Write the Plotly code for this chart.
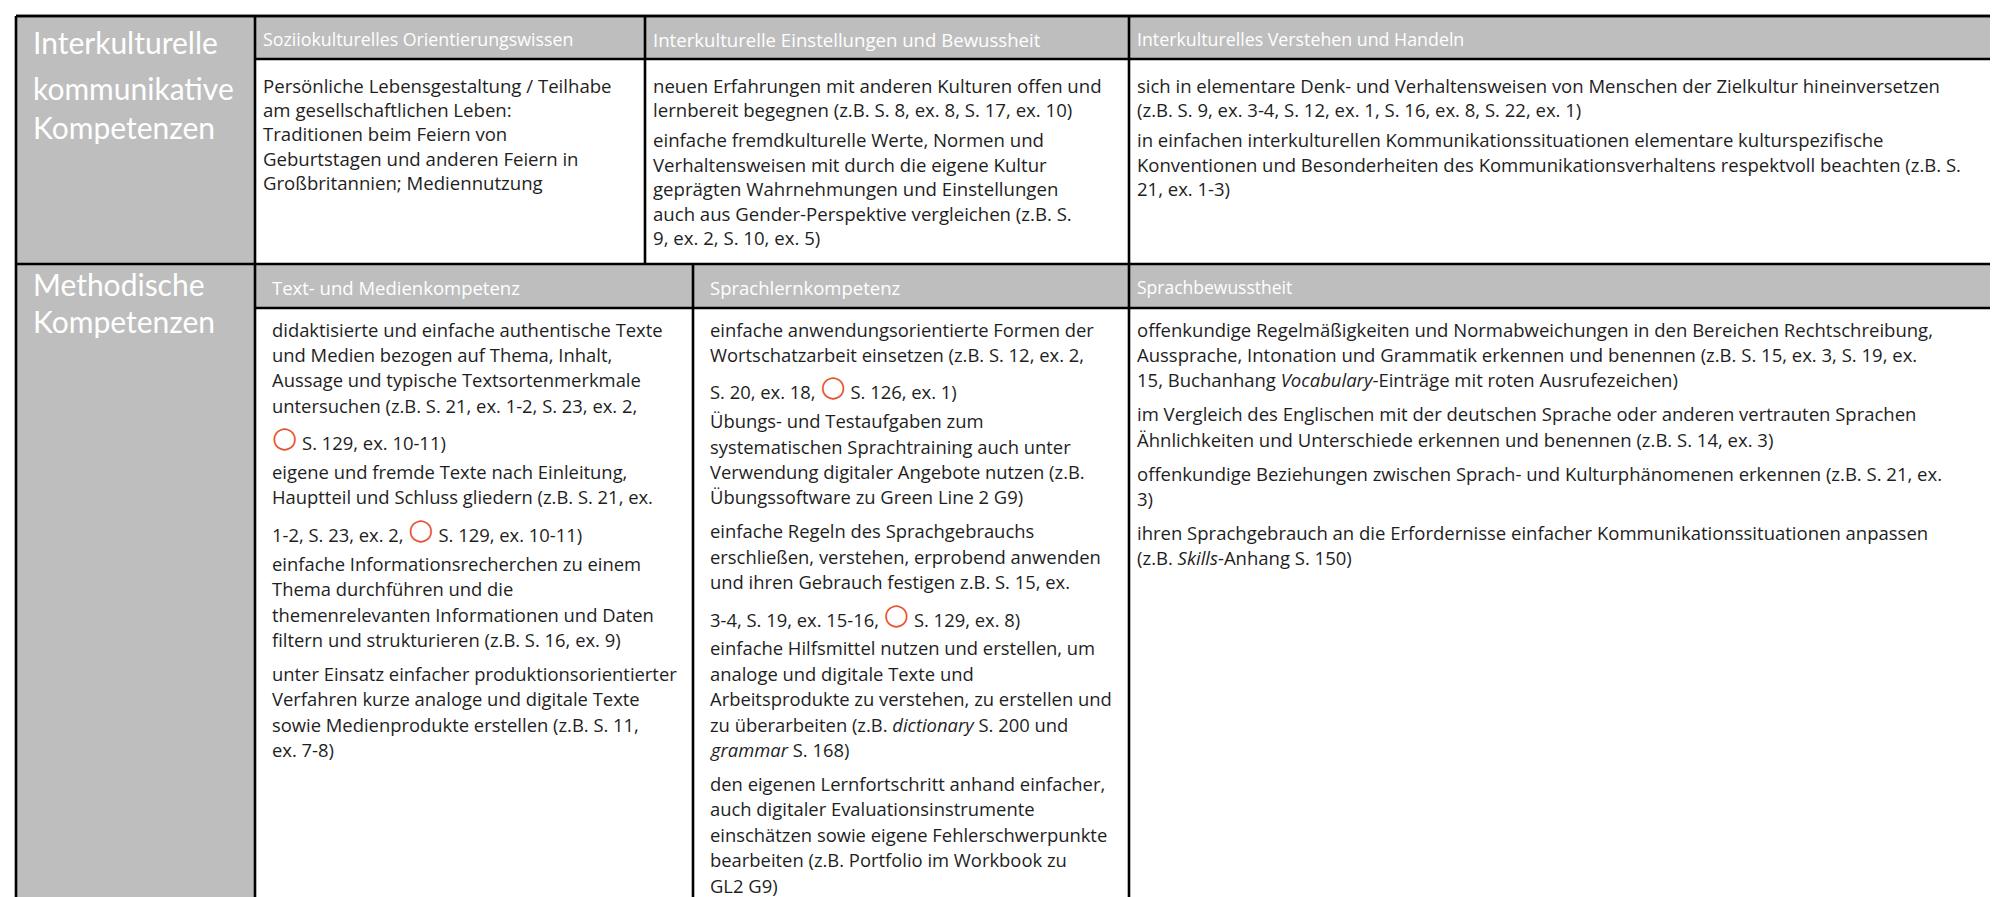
import plotly.graph_objects as go

# --- table content -------------------------------------------------------
domain_labels = [
    ["Interkulturelle", "kommunikative", "Kompetenzen"],
    ["Methodische", "Kompetenzen"],
]

row1_headers = [
    "Soziiokulturelles Orientierungswissen",
    "Interkulturelle Einstellungen und Bewussheit",
    "Interkulturelles Verstehen und Handeln",
]
row2_headers = [
    "Text- und Medienkompetenz",
    "Sprachlernkompetenz",
    "Sprachbewusstheit",
]

# each cell = list of paragraphs, each paragraph = list of lines ("○" = red circle symbol)
row1_cells = [
    [["Persönliche Lebensgestaltung / Teilhabe",
      "am gesellschaftlichen Leben:",
      "Traditionen beim Feiern von",
      "Geburtstagen und anderen Feiern in",
      "Großbritannien; Mediennutzung"]],
    [["neuen Erfahrungen mit anderen Kulturen offen und",
      "lernbereit begegnen (z.B. S. 8, ex. 8, S. 17, ex. 10)"],
     ["einfache fremdkulturelle Werte, Normen und",
      "Verhaltensweisen mit durch die eigene Kultur",
      "geprägten Wahrnehmungen und Einstellungen",
      "auch aus Gender-Perspektive vergleichen (z.B. S.",
      "9, ex. 2, S. 10, ex. 5)"]],
    [["sich in elementare Denk- und Verhaltensweisen von Menschen der Zielkultur hineinversetzen",
      "(z.B. S. 9, ex. 3-4, S. 12, ex. 1, S. 16, ex. 8, S. 22, ex. 1)"],
     ["in einfachen interkulturellen Kommunikationssituationen elementare kulturspezifische",
      "Konventionen und Besonderheiten des Kommunikationsverhaltens respektvoll beachten (z.B. S.",
      "21, ex. 1-3)"]],
]
row2_cells = [
    [["didaktisierte und einfache authentische Texte",
      "und Medien bezogen auf Thema, Inhalt,",
      "Aussage und typische Textsortenmerkmale",
      "untersuchen (z.B. S. 21, ex. 1-2, S. 23, ex. 2,",
      "○ S. 129, ex. 10-11)"],
     ["eigene und fremde Texte nach Einleitung,",
      "Hauptteil und Schluss gliedern (z.B. S. 21, ex.",
      "1-2, S. 23, ex. 2, ○ S. 129, ex. 10-11)"],
     ["einfache Informationsrecherchen zu einem",
      "Thema durchführen und die",
      "themenrelevanten Informationen und Daten",
      "filtern und strukturieren (z.B. S. 16, ex. 9)"],
     ["unter Einsatz einfacher produktionsorientierter",
      "Verfahren kurze analoge und digitale Texte",
      "sowie Medienprodukte erstellen (z.B. S. 11,",
      "ex. 7-8)"]],
    [["einfache anwendungsorientierte Formen der",
      "Wortschatzarbeit einsetzen (z.B. S. 12, ex. 2,",
      "S. 20, ex. 18, ○ S. 126, ex. 1)"],
     ["Übungs- und Testaufgaben zum",
      "systematischen Sprachtraining auch unter",
      "Verwendung digitaler Angebote nutzen (z.B.",
      "Übungssoftware zu Green Line 2 G9)"],
     ["einfache Regeln des Sprachgebrauchs",
      "erschließen, verstehen, erprobend anwenden",
      "und ihren Gebrauch festigen z.B. S. 15, ex.",
      "3-4, S. 19, ex. 15-16, ○ S. 129, ex. 8)"],
     ["einfache Hilfsmittel nutzen und erstellen, um",
      "analoge und digitale Texte und",
      "Arbeitsprodukte zu verstehen, zu erstellen und",
      "zu überarbeiten (z.B. <i>dictionary</i> S. 200 und",
      "<i>grammar</i> S. 168)"],
     ["den eigenen Lernfortschritt anhand einfacher,",
      "auch digitaler Evaluationsinstrumente",
      "einschätzen sowie eigene Fehlerschwerpunkte",
      "bearbeiten (z.B. Portfolio im Workbook zu",
      "GL2 G9)"]],
    [["offenkundige Regelmäßigkeiten und Normabweichungen in den Bereichen Rechtschreibung,",
      "Aussprache, Intonation und Grammatik erkennen und benennen (z.B. S. 15, ex. 3, S. 19, ex.",
      "15, Buchanhang <i>Vocabulary</i>-Einträge mit roten Ausrufezeichen)"],
     ["im Vergleich des Englischen mit der deutschen Sprache oder anderen vertrauten Sprachen",
      "Ähnlichkeiten und Unterschiede erkennen und benennen (z.B. S. 14, ex. 3)"],
     ["offenkundige Beziehungen zwischen Sprach- und Kulturphänomenen erkennen (z.B. S. 21, ex.",
      "3)"],
     ["ihren Sprachgebrauch an die Erfordernisse einfacher Kommunikationssituationen anpassen",
      "(z.B. <i>Skills</i>-Anhang S. 150)"]],
]

# --- layout (pixel units on the axes) ------------------------------------
W, H = 1998, 897
LEFT, LABEL_R, RIGHT = 8, 247, 1996
BOTTOM = 915
rows = [
    dict(top=8, head_bot=51, bottom=256, edges=[247, 637, 1121, 1996], pads=[6, 6, 6],
         label_y=[34, 80, 119], head_y=31, first=77, line=24.4, para=6,
         headers=row1_headers, cells=row1_cells),
    dict(top=256, head_bot=300, bottom=BOTTOM, edges=[247, 685, 1121, 1996], pads=[15, 15, 6],
         label_y=[276, 313], head_y=279, first=321, line=25.4, para=8.5,
         headers=row2_headers, cells=row2_cells),
]

GRAY = "#bebebe"
INK = "#1e1e1e"
RED = "#e8532e"
FONT = "Open Sans"

head_sizes = [[17.8, 18.6, 17.8], [18.5, 18.5, 17.5]]
body_sizes = [[18.6, 18.6, 18.5], [18.4, 18.4, 18.5]]
CIRC = 7

circle = ('<span style="color:%s;font-family:DejaVu Sans;font-weight:bold;font-size:29px;'
          'baseline-shift:3px">○</span>' % RED)

shapes = []
ann = []

# gray fills
shapes.append(dict(type="rect", x0=LEFT, x1=LABEL_R, y0=8, y1=BOTTOM,
                   fillcolor=GRAY, line=dict(width=0), layer="below"))
for r in rows:
    shapes.append(dict(type="rect", x0=LABEL_R, x1=RIGHT, y0=r["top"], y1=r["head_bot"],
                       fillcolor=GRAY, line=dict(width=0), layer="below"))


def hline(y, x0, x1):
    shapes.append(dict(type="line", x0=x0, x1=x1, y0=y, y1=y,
                       line=dict(color="black", width=2.6)))


def vline(x, y0, y1):
    shapes.append(dict(type="line", x0=x, x1=x, y0=y0, y1=y1,
                       line=dict(color="black", width=2.6)))


# borders
hline(8, LEFT, RIGHT)
vline(LEFT, 8, BOTTOM)
vline(RIGHT, 8, BOTTOM)
for r in rows:
    hline(r["top"], LEFT, RIGHT)
    hline(r["head_bot"], LABEL_R, RIGHT)
    for x in r["edges"]:
        vline(x, r["top"], r["bottom"])

for ri, r in enumerate(rows):
    # domain label in the gray left column
    for line, y in zip(domain_labels[ri], r["label_y"]):
        ann.append(dict(x=LEFT + 15, y=y, text=line, xanchor="left", yanchor="middle",
                        font=dict(family="Lato", size=30, color="white")))
    for ci in range(3):
        x = r["edges"][ci] + r["pads"][ci]
        ann.append(dict(x=x, y=r["head_y"], text=r["headers"][ci],
                        xanchor="left", yanchor="middle",
                        font=dict(family=FONT, size=head_sizes[ri][ci], color="white")))
        y = r["first"]
        first = True
        for para in r["cells"][ci]:
            if not first:
                y += r["para"]
            for line in para:
                if not first:
                    y += r["line"]
                first = False
                if "○" in line:
                    y += CIRC
                ann.append(dict(x=x, y=y, text=line.replace("○", circle),
                                xanchor="left", yanchor="middle",
                                font=dict(family=FONT, size=body_sizes[ri][ci], color=INK)))

for a in ann:
    a.update(xref="x", yref="y", showarrow=False, align="left")

fig = go.Figure()
fig.update_layout(
    width=W, height=H,
    margin=dict(l=0, r=0, t=0, b=0),
    paper_bgcolor="white", plot_bgcolor="white",
    shapes=shapes, annotations=ann,
    showlegend=False,
    xaxis=dict(range=[0, W], visible=False, fixedrange=True),
    yaxis=dict(range=[H, 0], visible=False, fixedrange=True),
)

fig.write_html("out.html")
